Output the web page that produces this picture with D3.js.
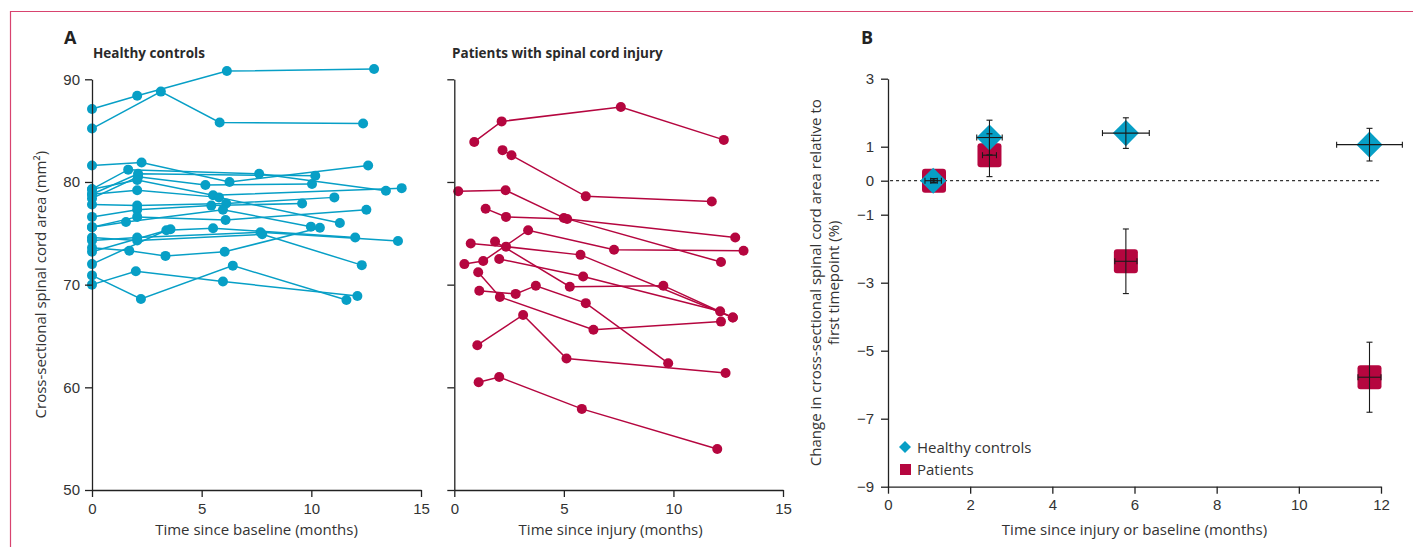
<!DOCTYPE html>
<html>
<head>
<meta charset="utf-8">
<script src="https://cdn.jsdelivr.net/npm/d3@7"></script>
<style>
  body { margin: 0; background: #fff; }
  svg { display: block; font-family: 'Liberation Sans Narrow', 'Open Sans', sans-serif; }
  .tick text { font-size: 15px; fill: #333; }
  .tick line, .domain { stroke: #222; stroke-width: 1.3; }
  .axis-label { font-size: 15px; fill: #333; }
  .panel-title { font-family: 'Open Sans', sans-serif; font-weight: 700; font-size: 13.5px; fill: #2a2a2a; }
  .panel-letter { font-family: 'Open Sans', sans-serif; font-weight: 700; font-size: 18px; fill: #222; }
  .legend-text { font-size: 15px; fill: #333; }
</style>
</head>
<body>
<svg width="1413" height="547"></svg>
<script>
// ---- data: panel A, healthy controls [months, mm2]
const healthy = [
  [[0, 87.1], [2.06, 88.4], [6.15, 90.8], [12.86, 91.0]],
  [[0, 85.2], [3.14, 88.8], [5.82, 85.8], [12.36, 85.7]],
  [[0, 81.6], [2.26, 81.9], [6.27, 80.0], [12.59, 81.6]],
  [[0, 79.3], [1.65, 81.2], [7.62, 80.8], [13.4, 79.15]],
  [[0, 78.8], [2.1, 80.8], [10.18, 80.6]],
  [[0, 78.4], [2.1, 80.5], [5.17, 79.7], [10.03, 79.8]],
  [[0, 79.3], [2.06, 80.2], [5.52, 78.7], [14.12, 79.4]],
  [[0, 78.8], [2.06, 79.2], [5.79, 78.5], [11.3, 76.0]],
  [[0, 77.8], [2.06, 77.7], [6.12, 77.9], [11.05, 78.5]],
  [[0, 76.6], [2.06, 77.3], [5.44, 77.7], [9.58, 77.9]],
  [[0, 75.6], [2.06, 76.6], [6.09, 76.3], [12.51, 77.3]],
  [[0, 75.6], [1.55, 76.1], [5.97, 77.3], [9.98, 75.65]],
  [[0, 72.0], [3.39, 75.3], [5.52, 75.5], [12.0, 74.6]],
  [[0, 74.6], [2.06, 74.3], [7.76, 74.9], [12.3, 71.9]],
  [[0, 74.3], [2.06, 74.6], [7.68, 75.1], [13.95, 74.25]],
  [[0, 73.6], [1.7, 73.3], [3.35, 72.8], [6.05, 73.2], [10.39, 75.55]],
  [[0, 70.0], [2.0, 71.3], [5.97, 70.3], [12.1, 68.9]],
  [[0, 70.9], [2.23, 68.6], [6.42, 71.85], [11.6, 68.5]],
  [[0, 73.2], [3.58, 75.4]]
];

// ---- data: panel A, patients with spinal cord injury [months, mm2]
const patients = [
  [[0.91, 83.9], [2.16, 85.9], [7.6, 87.3], [12.3, 84.1]],
  [[2.2, 83.1], [2.61, 82.6], [6.0, 78.6], [11.75, 78.1]],
  [[0.18, 79.1], [2.34, 79.2], [5.0, 76.5], [12.17, 72.2]],
  [[1.43, 77.4], [2.36, 76.6], [5.15, 76.4], [12.82, 74.6]],
  [[0.75, 74.0], [2.36, 73.7], [5.76, 72.9], [12.71, 66.8]],
  [[0.46, 72.0], [1.32, 72.3], [3.37, 75.3], [7.29, 73.4], [13.2, 73.3]],
  [[2.05, 72.5], [5.88, 70.8], [12.13, 67.4]],
  [[1.86, 74.2], [5.27, 69.8], [9.54, 69.9], [12.71, 66.8]],
  [[1.09, 71.2], [2.08, 68.8], [6.35, 65.6], [12.17, 66.4]],
  [[1.14, 69.4], [2.8, 69.1], [3.72, 69.9], [6.0, 68.2], [9.76, 62.35]],
  [[1.05, 64.1], [3.14, 67.05], [5.12, 62.8], [12.38, 61.4]],
  [[1.11, 60.5], [2.05, 61.0], [5.82, 57.9], [12.0, 54.0]]
];

const timeTicks = [0, 5, 10, 15];
const areaTicks = [50, 60, 70, 80, 90];

// ---- data: panel B, mean change (%) with error
const hcTime = [1.1, 2.47, 5.79, 11.72];
const hcChange = [0, 1.27, 1.40, 1.06];
const hcErrTime = [0.2, 0.31, 0.57, 0.8];
const hcErrChange = [0.06, 0.51, 0.45, 0.48];

const ptTime = [1.12, 2.47, 5.79, 11.72];
const ptChange = [0, 0.75, -2.37, -5.78];
const ptErrTime = [0.08, 0.17, 0.27, 0.28];
const ptErrChange = [0.06, 0.63, 0.95, 1.03];

const monthTicks = [0, 2, 4, 6, 8, 10, 12];
const changeTicks = [-9, -7, -5, -3, -1, 0, 1, 3];

const cyan = '#079fc6';
const crimson = '#b5063f';

const svg = d3.select('svg');

// frame
svg.append('path')
  .attr('d', 'M10.5,547 V11.5 H1413')
  .attr('fill', 'none')
  .attr('stroke', '#d8436f')
  .attr('stroke-width', 1.2);

// ---- panel A scales
const leftX = d3.scaleLinear().domain([0, 15]).range([92, 421]);
const rightX = d3.scaleLinear().domain([0, 15]).range([454.3, 783]);
const areaY = d3.scaleLinear().domain([50, 90]).range([490, 79.3]);

const drawSubjects = (xScale, data, colour) => {
  const g = svg.append('g');
  const line = d3.line()
    .x((d) => xScale(d[0]))
    .y((d) => areaY(d[1]));

  g.selectAll('path.subject')
    .data(data)
    .enter()
    .append('path')
    .attr('class', 'subject')
    .attr('d', line)
    .attr('fill', 'none')
    .attr('stroke', colour)
    .attr('stroke-width', 1.5);

  g.selectAll('circle')
    .data(data.flat())
    .enter()
    .append('circle')
    .attr('cx', (d) => xScale(d[0]))
    .attr('cy', (d) => areaY(d[1]))
    .attr('r', 5)
    .attr('fill', colour);
};

const drawAreaAxes = (xScale, showLabels) => {
  const yAxisG = svg.append('g')
    .attr('transform', `translate(${xScale(0)},0)`)
    .call(d3.axisLeft(areaY).tickValues(areaTicks).tickSize(7).tickSizeOuter(0).tickPadding(5)
      .tickFormat(showLabels ? d3.format('d') : () => ''));

  const xAxisG = svg.append('g')
    .attr('transform', `translate(0,${areaY(50)})`)
    .call(d3.axisBottom(xScale).tickValues(timeTicks).tickSize(7).tickSizeOuter(0).tickPadding(6));
  return xAxisG;
};

drawSubjects(leftX, healthy, cyan);
drawSubjects(rightX, patients, crimson);
drawAreaAxes(leftX, true);
drawAreaAxes(rightX, false);

svg.append('text')
  .attr('class', 'axis-label')
  .attr('x', (leftX(0) + leftX(15)) / 2)
  .attr('y', 535)
  .attr('text-anchor', 'middle')
  .text('Time since baseline (months)');

svg.append('text')
  .attr('class', 'axis-label')
  .attr('x', (rightX(0) + rightX(15)) / 2 - 8)
  .attr('y', 535)
  .attr('text-anchor', 'middle')
  .text('Time since injury (months)');

svg.append('text')
  .attr('class', 'axis-label')
  .attr('transform', `translate(46,${(areaY(50) + areaY(90)) / 2}) rotate(-90)`)
  .attr('text-anchor', 'middle')
  .text('Cross-sectional spinal cord area (mm²)');

svg.append('text').attr('class', 'panel-letter').attr('x', 64).attr('y', 44).text('A');
svg.append('text').attr('class', 'panel-title').attr('x', 93).attr('y', 58).text('Healthy controls');
svg.append('text').attr('class', 'panel-title').attr('x', 452).attr('y', 58).text('Patients with spinal cord injury');

// ---- panel B
const bX = d3.scaleLinear().domain([0, 12]).range([888, 1381]);
const bY = d3.scaleLinear().domain([-9, 3]).range([486.7, 78.7]);

svg.append('g')
  .attr('transform', `translate(${bX(0)},0)`)
  .call(d3.axisLeft(bY).tickValues(changeTicks).tickSize(7).tickSizeOuter(0).tickPadding(7));

svg.append('g')
  .attr('transform', `translate(0,${bY(-9)})`)
  .call(d3.axisBottom(bX).tickValues(monthTicks).tickSize(7).tickSizeOuter(0).tickPadding(6));

svg.append('line')
  .attr('x1', bX(0.05)).attr('x2', bX(12))
  .attr('y1', bY(0)).attr('y2', bY(0))
  .attr('stroke', '#333')
  .attr('stroke-width', 1.2)
  .attr('stroke-dasharray', '3,3');

const bG = svg.append('g');

bG.selectAll('rect.pt')
  .data(ptTime)
  .enter()
  .append('rect')
  .attr('class', 'pt')
  .attr('x', (d) => bX(d) - 12)
  .attr('y', (d, i) => bY(ptChange[i]) - 12)
  .attr('width', 24)
  .attr('height', 24)
  .attr('rx', 3)
  .attr('fill', crimson);

bG.selectAll('path.hc')
  .data(hcTime)
  .enter()
  .append('path')
  .attr('class', 'hc')
  .attr('d', d3.symbol(d3.symbolSquare, 340))
  .attr('transform', (d, i) => `translate(${bX(d)},${bY(hcChange[i])}) rotate(45)`)
  .attr('fill', cyan);

const drawErrors = (times, values, errT, errV) => {
  const g = svg.append('g').attr('stroke', '#1a1a1a').attr('stroke-width', 1.1);
  times.forEach((t, i) => {
    const cx = bX(t);
    const cy = bY(values[i]);
    const x0 = bX(t - errT[i]);
    const x1 = bX(t + errT[i]);
    const y0 = bY(values[i] + errV[i]);
    const y1 = bY(values[i] - errV[i]);
    g.append('line').attr('x1', x0).attr('x2', x1).attr('y1', cy).attr('y2', cy);
    g.append('line').attr('x1', x0).attr('x2', x0).attr('y1', cy - 3).attr('y2', cy + 3);
    g.append('line').attr('x1', x1).attr('x2', x1).attr('y1', cy - 3).attr('y2', cy + 3);
    g.append('line').attr('x1', cx).attr('x2', cx).attr('y1', y0).attr('y2', y1);
    g.append('line').attr('x1', cx - 3).attr('x2', cx + 3).attr('y1', y0).attr('y2', y0);
    g.append('line').attr('x1', cx - 3).attr('x2', cx + 3).attr('y1', y1).attr('y2', y1);
  });
};

drawErrors(ptTime, ptChange, ptErrTime, ptErrChange);
drawErrors(hcTime, hcChange, hcErrTime, hcErrChange);

svg.append('text')
  .attr('class', 'axis-label')
  .attr('x', (bX(0) + bX(12)) / 2)
  .attr('y', 535)
  .attr('text-anchor', 'middle')
  .text('Time since injury or baseline (months)');

const yTitle = svg.append('text')
  .attr('class', 'axis-label')
  .attr('transform', `translate(821,${bY(-3)}) rotate(-90)`)
  .attr('text-anchor', 'middle');
yTitle.append('tspan').attr('x', 0).attr('dy', 0).text('Change in cross-sectional spinal cord area relative to');
yTitle.append('tspan').attr('x', 0).attr('dy', 18).text('first timepoint (%)');

svg.append('text').attr('class', 'panel-letter').attr('x', 861).attr('y', 44).text('B');

// legend
svg.append('path')
  .attr('d', d3.symbol(d3.symbolSquare, 72))
  .attr('transform', `translate(905,447) rotate(45)`)
  .attr('fill', cyan);
svg.append('rect')
  .attr('x', 900).attr('y', 464).attr('width', 11).attr('height', 11)
  .attr('fill', crimson);
svg.append('text').attr('class', 'legend-text').attr('x', 917).attr('y', 453).text('Healthy controls');
svg.append('text').attr('class', 'legend-text').attr('x', 917).attr('y', 475).text('Patients');
</script>
</body>
</html>
